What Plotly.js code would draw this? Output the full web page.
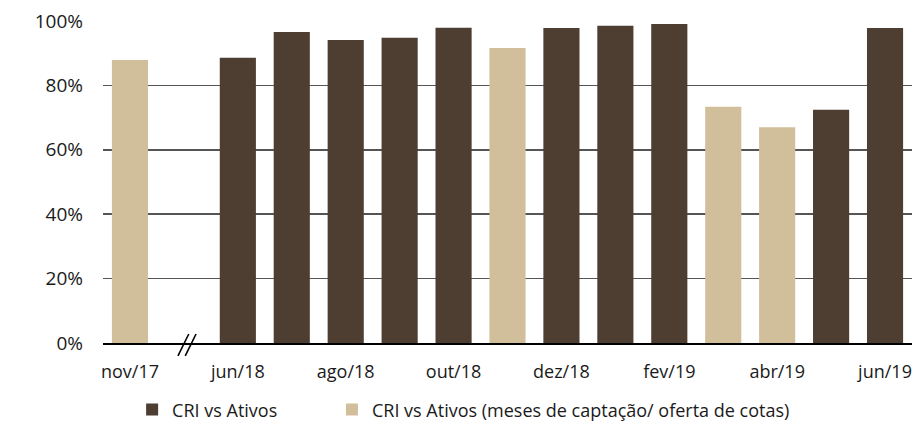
<!DOCTYPE html>
<html>
<head>
<meta charset="utf-8">
<script src="https://cdn.plot.ly/plotly-3.0.1.min.js"></script>
<style>
  html, body { margin: 0; padding: 0; background: #ffffff; }
  #chart { width: 915px; height: 430px; }
</style>
</head>
<body>
<div id="chart"></div>
<script>
// Categories (the blank one is the axis break between nov/17 and jun/18)
const categories = ['nov/17', ' ', 'jun/18', 'jul/18', 'ago/18', 'set/18', 'out/18', 'nov/18',
                    'dez/18', 'jan/19', 'fev/19', 'mar/19', 'abr/19', 'mai/19', 'jun/19'];
// CRI vs Ativos (%)
const criAtivos = [null, null, 88.6, 96.6, 94.1, 94.8, 97.9, null,
                   97.8, 98.5, 99.1, null, null, 72.4, 97.8];
// CRI vs Ativos (meses de captação/ oferta de cotas) (%)
const criAtivosCaptacao = [87.9, null, null, null, null, null, null, 91.6,
                           null, null, null, 73.4, 67.0, null, null];
// Tick labels
const xTickLabels = ['nov/17', 'jun/18', 'ago/18', 'out/18', 'dez/18', 'fev/19', 'abr/19', 'jun/19'];
const yTickValues = [0, 20, 40, 60, 80, 100];
const yTickLabels = ['0%', '20%', '40%', '60%', '80%', '100%'];

const seriesNames = ['CRI vs Ativos', 'CRI vs Ativos (meses de captação/ oferta de cotas)'];
const DARK = '#4e3d31';
const LIGHT = '#d1bf9b';
const FONT = 'Open Sans, Noto Sans, sans-serif';

const traces = [
  { type: 'bar', name: seriesNames[0], x: categories, y: criAtivos,
    marker: { color: DARK }, legend: 'legend' },
  { type: 'bar', name: seriesNames[1], x: categories, y: criAtivosCaptacao,
    marker: { color: LIGHT }, legend: 'legend2' }
];

// Axis-break marker "//" drawn as two short slanted lines around the blank category
const breakIdx = categories.indexOf(' ');
const shapes = [0, 0.135].map(dx => ({
  type: 'line', xref: 'x', yref: 'paper',
  x0: breakIdx - 0.11 + dx, y0: -0.04,
  x1: breakIdx + 0.09 + dx, y1: 0.028,
  line: { color: '#000000', width: 1.6 }
}));

const legendFont = { family: FONT, size: 18, color: '#1a1a1a' };

const layout = {
  width: 915, height: 430,
  margin: { l: 103, r: 3, t: 21, b: 86 },
  paper_bgcolor: '#ffffff', plot_bgcolor: '#ffffff',
  font: { family: FONT, size: 18, color: '#1a1a1a' },
  barmode: 'overlay',
  bargap: 0.33,
  showlegend: true,
  legend: {
    orientation: 'h', x: 0.036, xanchor: 'left', y: -0.204, yanchor: 'middle',
    font: legendFont, bgcolor: 'rgba(0,0,0,0)'
  },
  legend2: {
    orientation: 'h', x: 0.283, xanchor: 'left', y: -0.204, yanchor: 'middle',
    font: legendFont, bgcolor: 'rgba(0,0,0,0)'
  },
  xaxis: {
    type: 'category', categoryorder: 'array', categoryarray: categories,
    range: [-0.5, categories.length - 0.5],
    tickmode: 'array', tickvals: xTickLabels, ticktext: xTickLabels,
    showgrid: false, zeroline: false,
    showline: true, linecolor: '#000000', linewidth: 1.5,
    ticks: '', ticklabelstandoff: 12,
    tickfont: { family: FONT, size: 18, color: '#1a1a1a' },
    fixedrange: true
  },
  yaxis: {
    range: [0, 100], tickmode: 'array', tickvals: yTickValues, ticktext: yTickLabels,
    showgrid: true, gridcolor: '#555555', gridwidth: 1.6,
    zeroline: false, showline: false, ticks: '',
    ticklabelstandoff: 19,
    tickfont: { family: FONT, size: 19, color: '#1a1a1a' },
    fixedrange: true
  },
  shapes: shapes
};

Plotly.newPlot('chart', traces, layout, { displayModeBar: false, staticPlot: true });
</script>
</body>
</html>
